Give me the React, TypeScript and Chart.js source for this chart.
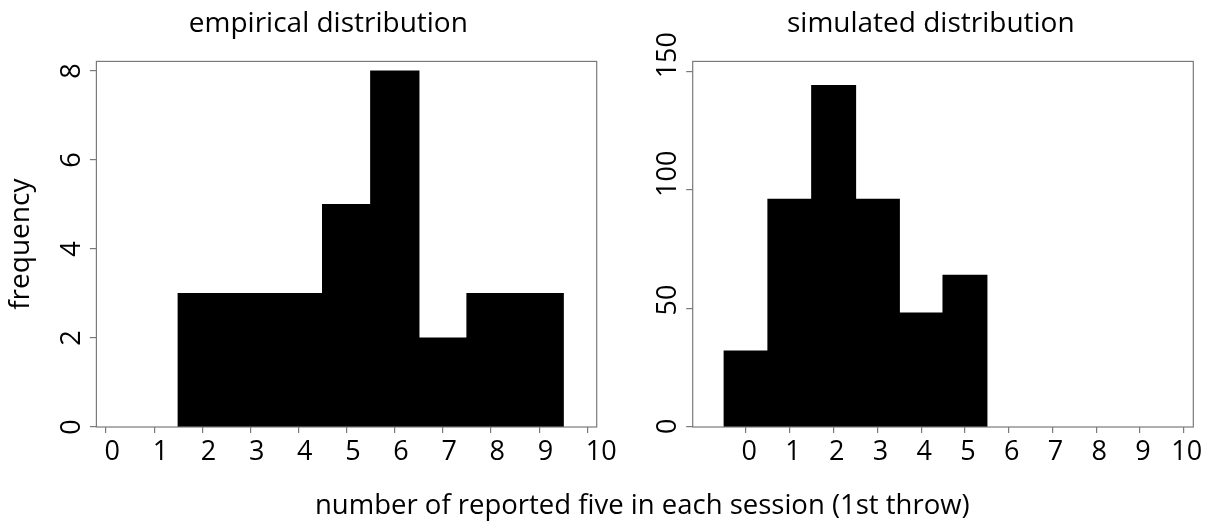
import React, { useEffect, useRef } from "react";
import { Chart, registerables } from "chart.js";

Chart.register(...registerables);

// ---- data ----
const xTickValues = [0, 1, 2, 3, 4, 5, 6, 7, 8, 9, 10];
const empiricalValues = [2, 3, 4, 5, 6, 7, 8, 9];
const empiricalFrequency = [3, 3, 3, 5, 8, 2, 3, 3];
const empiricalYTicks = [0, 2, 4, 6, 8];
const simulatedValues = [0, 1, 2, 3, 4, 5];
const simulatedFrequency = [32, 96, 144, 96, 48, 64];
const simulatedYTicks = [0, 50, 100, 150];
const leftTitle = "empirical distribution";
const rightTitle = "simulated distribution";
const yAxisTitle = "frequency";
const xAxisTitle = "number of reported five in each session (1st throw)";

const FONT = "'Open Sans', 'Noto Sans', sans-serif";
const AXIS_GREY = "#7a7a7a";

const boxPlugin = {
  id: "plotBox",
  afterDatasetsDraw(chart: any) {
    const { ctx, chartArea: a } = chart;
    ctx.save();
    ctx.strokeStyle = AXIS_GREY;
    ctx.lineWidth = 1.2;
    ctx.strokeRect(a.left, a.top, a.right - a.left, a.bottom - a.top);
    ctx.restore();
  },
};

type Panel = {
  title: string;
  xs: number[];
  ys: number[];
  yTicks: number[];
  xMin: number;
  xMax: number;
  yMax: number;
  padLeft: number;
  padRight: number;
  yAxisWidth: number;
  yTitle: string | null;
  yCrossAlign: "center" | "near";
  yMirror: boolean;
  yTickPadding: number;
  yLabelOffset: number;
  xAlign: "start" | "center";
  xLabelOffset: number;
};

function makeConfig(p: Panel): any {
  return {
    type: "bar",
    data: {
      datasets: [
        {
          data: p.xs.map((x, i) => ({ x, y: p.ys[i] })),
          backgroundColor: "#000000",
          borderWidth: 0,
          inflateAmount: 0.6,
          barPercentage: 1,
          categoryPercentage: 1,
        },
      ],
    },
    options: {
      responsive: false,
      animation: false,
      devicePixelRatio: 1,
      layout: { padding: { left: p.padLeft, right: p.padRight, top: 0, bottom: 0 } },
      plugins: {
        legend: { display: false },
        tooltip: { enabled: false },
        title: {
          display: true,
          text: p.title,
          color: "#000",
          font: { family: FONT, size: 28, weight: "normal" },
          padding: { top: 7.3, bottom: 20.5 },
        },
      },
      scales: {
        x: {
          type: "linear",
          min: p.xMin,
          max: p.xMax,
          offset: false,
          afterBuildTicks: (s: any) => {
            s.ticks = xTickValues.map((v) => ({ value: v }));
          },
          afterFit: (s: any) => {
            s.height = 99;
            s.paddingLeft = 0;
            s.paddingRight = 0;
          },
          grid: {
            display: true,
            offset: false,
            drawOnChartArea: false,
            drawTicks: true,
            tickLength: 6,
            color: AXIS_GREY,
            lineWidth: 1.2,
          },
          border: { display: false },
          ticks: {
            autoSkip: false,
            minRotation: 0,
            maxRotation: 0,
            align: p.xAlign,
            labelOffset: p.xLabelOffset,
            padding: 3,
            color: "#000",
            font: { family: FONT, size: 27 },
          },
        },
        y: {
          type: "linear",
          min: 0,
          max: p.yMax,
          afterBuildTicks: (s: any) => {
            s.ticks = p.yTicks.map((v) => ({ value: v }));
          },
          afterFit: (s: any) => {
            s.width = p.yAxisWidth;
            s.paddingTop = 0;
            s.paddingBottom = 0;
          },
          grid: {
            display: true,
            drawOnChartArea: false,
            drawTicks: true,
            tickLength: 6.5,
            color: AXIS_GREY,
            lineWidth: 1.2,
          },
          border: { display: false },
          title: p.yTitle
            ? {
                display: true,
                text: p.yTitle,
                color: "#000",
                font: { family: FONT, size: 28 },
                padding: { top: -55.8, bottom: 0 },
              }
            : { display: false },
          ticks: {
            autoSkip: false,
            minRotation: 90,
            maxRotation: 90,
            mirror: p.yMirror,
            crossAlign: p.yCrossAlign,
            labelOffset: p.yLabelOffset,
            padding: p.yTickPadding,
            color: "#000",
            font: { family: FONT, size: 27 },
          },
        },
      },
    },
    plugins: [boxPlugin],
  };
}

const leftPanel: Panel = {
  title: leftTitle,
  xs: empiricalValues,
  ys: empiricalFrequency,
  yTicks: empiricalYTicks,
  xMin: -0.2,
  xMax: 10.195,
  yMax: 8.218,
  padLeft: 60,
  padRight: 43.3,
  yAxisWidth: 36.4,
  yTitle: yAxisTitle,
  yCrossAlign: "center",
  yMirror: false,
  yTickPadding: 9.9,
  yLabelOffset: 0,
  xAlign: "start",
  xLabelOffset: -1.5,
};

const rightPanel: Panel = {
  title: rightTitle,
  xs: simulatedValues,
  ys: simulatedFrequency,
  yTicks: simulatedYTicks,
  xMin: -1.22,
  xMax: 10.217,
  yMax: 154.2,
  padLeft: 28.3,
  padRight: 26.7,
  yAxisWidth: 24.4,
  yTitle: null,
  yCrossAlign: "near",
  yMirror: true,
  yTickPadding: -24.4,
  yLabelOffset: 7,
  xAlign: "center",
  xLabelOffset: 3,
};

function HistPanel({ panel, left, width }: { panel: Panel; left: number; width: number }) {
  const ref = useRef<HTMLCanvasElement | null>(null);
  useEffect(() => {
    if (!ref.current) return;
    const chart = new Chart(ref.current, makeConfig(panel));
    let alive = true;
    if ((document as any).fonts && (document as any).fonts.load) {
      (document as any).fonts
        .load("27px 'Open Sans'")
        .then(() => {
          if (alive) chart.update();
        })
        .catch(() => {});
    }
    return () => {
      alive = false;
      chart.destroy();
    };
  }, [panel]);
  return (
    <canvas
      ref={ref}
      width={width}
      height={526}
      style={{ position: "absolute", left, top: 0, width, height: 526 }}
    />
  );
}

export default function App() {
  return (
    <div
      style={{
        position: "absolute",
        left: 0,
        top: 0,
        width: 1220,
        height: 526,
        background: "#ffffff",
        overflow: "hidden",
      }}
    >
      <HistPanel panel={leftPanel} left={0} width={640} />
      <HistPanel panel={rightPanel} left={640} width={580} />
      <div
        style={{
          position: "absolute",
          left: 315,
          top: 490,
          fontFamily: FONT,
          fontSize: 27.5,
          lineHeight: 1,
          whiteSpace: "nowrap",
          color: "#000",
        }}
      >
        {xAxisTitle}
      </div>
    </div>
  );
}
